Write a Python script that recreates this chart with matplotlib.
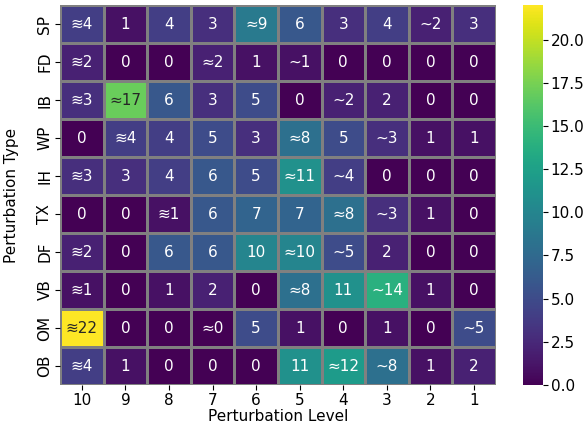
import numpy as np
import matplotlib
matplotlib.use("Agg")
import matplotlib.pyplot as plt
import seaborn as sns

row_labels = ["SP", "FD", "IB", "WP", "IH", "TX", "DF", "VB", "OM", "OB"]
col_labels = ["10", "9", "8", "7", "6", "5", "4", "3", "2", "1"]

values = [
    [4, 1, 4, 3, 9, 6, 3, 4, 2, 3],
    [2, 0, 0, 2, 1, 1, 0, 0, 0, 0],
    [3, 17, 6, 3, 5, 0, 2, 2, 0, 0],
    [0, 4, 4, 5, 3, 8, 5, 3, 1, 1],
    [3, 3, 4, 6, 5, 11, 4, 0, 0, 0],
    [0, 0, 1, 6, 7, 7, 8, 3, 1, 0],
    [2, 0, 6, 6, 10, 10, 5, 2, 0, 0],
    [1, 0, 1, 2, 0, 8, 11, 14, 1, 0],
    [22, 0, 0, 0, 5, 1, 0, 1, 0, 5],
    [4, 1, 0, 0, 0, 11, 12, 8, 1, 2],
]

# prefix markers for approximate cells: "≋", "≈", "~" or "" (exact)
prefixes = [
    ["≋", "", "", "", "≈", "", "", "", "~", ""],
    ["≋", "", "", "≈", "", "~", "", "", "", ""],
    ["≋", "≈", "", "", "", "", "~", "", "", ""],
    ["", "≋", "", "", "", "≈", "", "~", "", ""],
    ["≋", "", "", "", "", "≈", "~", "", "", ""],
    ["", "", "≋", "", "", "", "≈", "~", "", ""],
    ["≋", "", "", "", "", "≈", "~", "", "", ""],
    ["≋", "", "", "", "", "≈", "", "~", "", ""],
    ["≋", "", "", "≈", "", "", "", "", "", "~"],
    ["≋", "", "", "", "", "", "≈", "~", "", ""],
]

data = np.array(values, dtype=float)
annot = np.array([[p + str(v) for p, v in zip(pr, vr)] for pr, vr in zip(prefixes, values)])

FS = 11

fig = plt.figure(figsize=(5.85, 4.25), dpi=100)
ax = fig.add_axes([0.1026, 0.0941, 0.745, 0.894])
cax = fig.add_axes([0.894, 0.0941, 0.034, 0.894])

sns.heatmap(data, ax=ax, cbar_ax=cax, cmap="viridis", vmin=0, vmax=22,
            annot=annot, fmt="", annot_kws={"fontsize": FS},
            linewidths=0.8, linecolor="gray",
            xticklabels=col_labels, yticklabels=row_labels)

ax.set_xlabel("Perturbation Level", fontsize=FS, labelpad=1)
ax.set_ylabel("Perturbation Type", fontsize=FS)
ax.yaxis.set_label_coords(-0.095, 0.5)
ax.tick_params(axis="both", labelsize=FS, pad=2)
ax.set_yticklabels(row_labels, rotation=90, va="center")
ax.set_xticklabels(col_labels, rotation=0)
cax.tick_params(labelsize=FS, pad=2)
cax.set_yticks([0, 2.5, 5, 7.5, 10, 12.5, 15, 17.5, 20])
cax.set_yticklabels(["0.0", "2.5", "5.0", "7.5", "10.0", "12.5", "15.0", "17.5", "20.0"])

fig.savefig("out.png", dpi=100)
